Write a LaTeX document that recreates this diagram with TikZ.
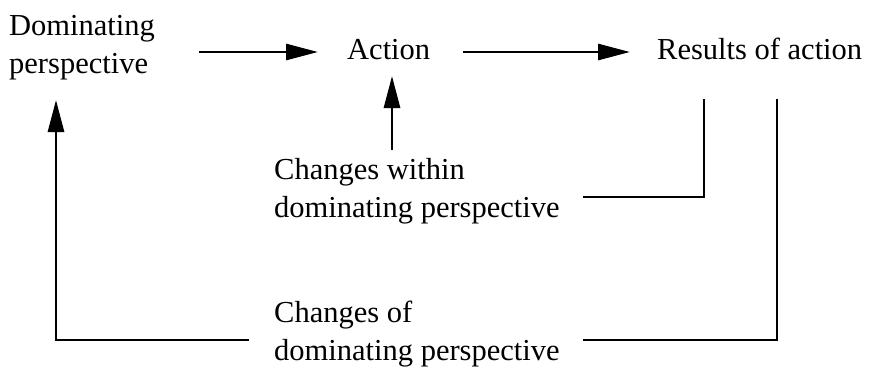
\documentclass[tikz,border=0pt]{standalone}
\usepackage{fontspec}
\setmainfont{Liberation Serif}
\usetikzlibrary{arrows.meta}
\begin{document}
\begin{tikzpicture}[x=1pt,y=-1pt,
  lbl/.style={inner sep=0pt, anchor=base west, font=\fontsize{30.5}{38.5}\selectfont},
  conn/.style={line width=2.9pt},
  arr/.style={conn, -{Triangle[length=32pt,width=16pt]}}]
\useasboundingbox (0,0) rectangle (871,370);
\node[lbl] (dp) at (9,35) {\begin{tabular}[t]{@{}l@{}}Dominating\\perspective\end{tabular}};
\node[lbl] (act) at (347,59) {Action};
\node[lbl] (res) at (657,59) {Results of action};
\node[lbl] (cw) at (274,179) {\begin{tabular}[t]{@{}l@{}}Changes within\\dominating perspective\end{tabular}};
\node[lbl] (co) at (274,322) {\begin{tabular}[t]{@{}l@{}}Changes of\\dominating perspective\end{tabular}};
% connector ends
\coordinate (dpR) at (199,52);
\coordinate (actL) at (318,52);
\coordinate (actR) at (463,52);
\coordinate (resL) at (630,52);
\coordinate (actB) at (392,76);
\coordinate (cwT) at (392,150);
\coordinate (resB1) at (704,99);
\coordinate (cwR) at (583,197);
\coordinate (resB2) at (777,99);
\coordinate (coR) at (583,340);
\coordinate (coL) at (249,340);
\coordinate (dpB) at (56,100);
\draw[arr] (dpR) -- (actL);
\draw[arr] (actR) -- (resL);
\draw[arr] (cwT) -- (actB);
\draw[conn] (resB1) |- (cwR);
\draw[conn] (resB2) |- (coR);
\draw[arr] (coL) -| (dpB);
\end{tikzpicture}
\end{document}
